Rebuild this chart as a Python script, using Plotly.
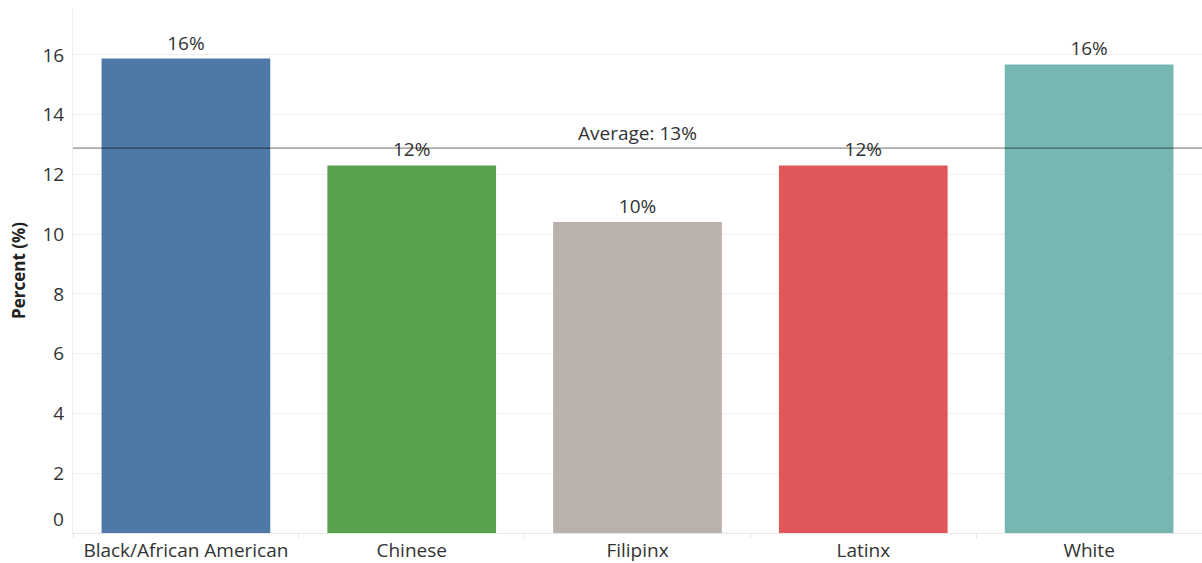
import plotly.graph_objects as go

# data
groups = ["Black/African American", "Chinese", "Filipinx", "Latinx", "White"]
percent = [15.88, 12.30, 10.41, 12.30, 15.68]
colors = ["#4e79a7", "#59a14f", "#bab0ac", "#e15759", "#76b7b2"]
average = 12.88
y_ticks = [0, 2, 4, 6, 8, 10, 12, 14, 16]

FONT = "Open Sans"
TXT = "#333333"


def main():
    fig = go.Figure()

    fig.add_trace(go.Bar(
        x=groups,
        y=percent,
        marker=dict(color=colors, line=dict(width=0)),
        width=0.747,
        text=[f"{round(v)}%" for v in percent],
        textposition="outside",
        textfont=dict(family=FONT, size=19, color=TXT),
        cliponaxis=False,
        hoverinfo="skip",
    ))

    # average reference line
    fig.add_shape(type="line", xref="paper", x0=0, x1=1, y0=average, y1=average,
                  line=dict(color="rgba(0,0,0,0.33)", width=1.6), layer="above")
    fig.add_annotation(x=0.5, xref="paper", y=average, yref="y",
                       text=f"Average: {round(average)}%", showarrow=False,
                       yanchor="bottom", yshift=0,
                       font=dict(family=FONT, size=19, color=TXT))

    # tableau draws the "0" label lifted above the baseline
    fig.add_annotation(x=0, xref="paper", xanchor="right", xshift=-7,
                       y=y_ticks[0], yref="y", yshift=14, showarrow=False,
                       text=str(y_ticks[0]),
                       font=dict(family=FONT, size=19, color=TXT))

    fig.update_layout(
        width=1202, height=563,
        margin=dict(l=73, r=0, t=8, b=28),
        plot_bgcolor="white", paper_bgcolor="white",
        showlegend=False,
        font=dict(family=FONT, color=TXT),
        yaxis=dict(
            range=[0, 17.57],
            tickvals=y_ticks,
            ticktext=[""] + [str(t) for t in y_ticks[1:]],
            gridcolor="#f0f0f0", gridwidth=1,
            zeroline=False,
            showline=True, linecolor="#ececec", linewidth=1,
            ticks="", ticklabelstandoff=4,
            tickfont=dict(family=FONT, size=19, color=TXT),
            title=dict(text="<b>Percent (%)</b>", standoff=12,
                       font=dict(family=FONT, size=17, color="#222222")),
        ),
        xaxis=dict(
            showgrid=False,
            showline=True, linecolor="#e6e6e6", linewidth=1,
            tickson="boundaries", ticks="outside", ticklen=4, tickcolor="#e6e6e6",
            tickfont=dict(family=FONT, size=19, color=TXT),
        ),
    )

    fig.write_html("out.html", config={"displayModeBar": False},
                   post_script="document.body.style.margin='0px';")


if __name__ == '__main__':
    main()
